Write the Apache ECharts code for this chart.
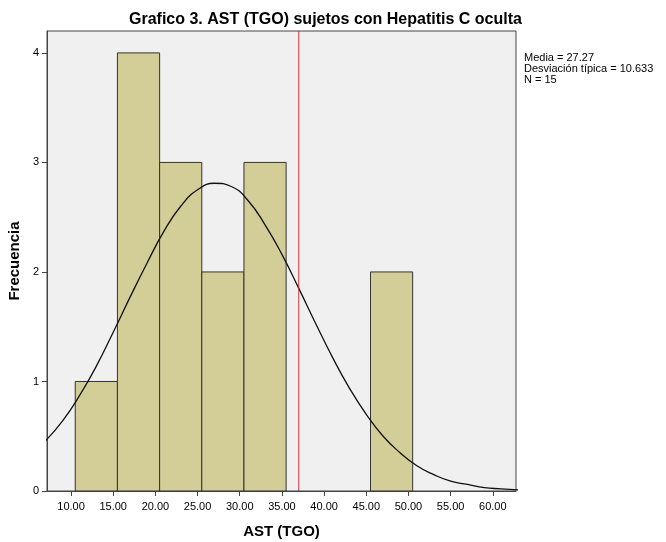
<!DOCTYPE html>
<html>
<head>
<meta charset="utf-8">
<script src="https://cdn.jsdelivr.net/npm/echarts@6/dist/echarts.min.js"></script>
<style>
  html, body { margin: 0; padding: 0; background: #fff; }
  #chart { width: 666px; height: 542px; }
</style>
</head>
<body>
<div id="chart"></div>
<script>
// histogram bins (AST TGO), width 5
const binStart = [10.5, 15.5, 20.5, 25.5, 30.5, 45.5];
const binCount = [1, 4, 3, 2, 3, 2];
const binWidth = 5;

// normal curve
const curveX = [7, 9, 11, 13, 15, 17, 19, 21, 23, 25, 27, 29, 31, 33, 35, 37, 39, 41, 43, 45, 47, 49, 51, 53, 55, 57, 59, 61, 63];
const curveY = [0.46, 0.64, 0.87, 1.14, 1.45, 1.77, 2.08, 2.37, 2.6, 2.75, 2.81, 2.78, 2.65, 2.43, 2.16, 1.85, 1.53, 1.22, 0.94, 0.7, 0.5, 0.35, 0.23, 0.15, 0.09, 0.06, 0.03, 0.02, 0.01];

const refLine = 37;
const xTicks = [10, 15, 20, 25, 30, 35, 40, 45, 50, 55, 60];
const yTicks = [0, 1, 2, 3, 4];
const statsLines = ["Media = 27.27", "Desviación típica = 10.633", "N = 15"];

const font = "Liberation Sans, Arial, sans-serif";
const myChart = echarts.init(document.getElementById("chart"));

let option = {
  animation: false,
  backgroundColor: "#ffffff",
  title: {
    text: "Grafico 3. AST (TGO) sujetos con Hepatitis C oculta",
    left: 124,
    top: 7,
    textStyle: { fontFamily: font, fontSize: 16, fontWeight: "bold", color: "#000" },
  },
  grid: {
    left: 47,
    right: 150,
    top: 31,
    bottom: 51,
    outerBoundsMode: "none",
    show: true,
    backgroundColor: "#f0f0f0",
    borderColor: "#444",
    borderWidth: 1,
  },
  xAxis: {
    type: "value",
    min: 7.15,
    max: 62.75,
    name: "AST (TGO)",
    nameLocation: "middle",
    nameGap: 33,
    nameTextStyle: { fontFamily: font, fontSize: 15, fontWeight: "bold", color: "#000" },
    splitLine: { show: false },
    axisLine: { show: true, lineStyle: { color: "#444" } },
    axisTick: { show: true, length: 5, customValues: xTicks, lineStyle: { color: "#444" } },
    axisLabel: {
      customValues: xTicks,
      formatter: (v) => v.toFixed(2),
      fontFamily: font,
      fontSize: 11,
      color: "#000",
      margin: 10,
    },
  },
  yAxis: {
    type: "value",
    min: 0,
    max: 4.2,
    name: "Frecuencia",
    nameLocation: "middle",
    nameGap: 24,
    nameTextStyle: { fontFamily: font, fontSize: 15, fontWeight: "bold", color: "#000" },
    splitLine: { show: false },
    axisLine: { show: true, lineStyle: { color: "#444" } },
    axisTick: { show: true, length: 5, customValues: yTicks, lineStyle: { color: "#444" } },
    axisLabel: {
      customValues: yTicks,
      fontFamily: font,
      fontSize: 11,
      color: "#000",
      margin: 8,
    },
  },
  graphic: [
    {
      type: "text",
      left: 524,
      top: 52,
      style: {
        text: statsLines.join("\n"),
        font: "11px " + font,
        lineHeight: 11,
        fill: "#000",
      },
    },
  ],
  series: [
    {
      type: "custom",
      data: binStart.map((s, i) => [s, s + binWidth, binCount[i]]),
      encode: { x: [0, 1], y: 2 },
      renderItem: function (params, api) {
        const p0 = api.coord([api.value(0), api.value(2)]);
        const p1 = api.coord([api.value(1), 0]);
        return {
          type: "rect",
          shape: { x: p0[0], y: p0[1], width: p1[0] - p0[0], height: p1[1] - p0[1] },
          style: { fill: "#d3ce97", stroke: "#333", lineWidth: 1 },
        };
      },
      z: 2,
    },
    {
      type: "line",
      data: curveX.map((x, i) => [x, curveY[i]]),
      smooth: true,
      symbol: "none",
      lineStyle: { color: "#111", width: 1.3 },
      z: 3,
    },
    {
      // reference line
      type: "line",
      data: [[refLine, 0], [refLine, 4.2]],
      symbol: "none",
      lineStyle: { color: "#c8323c", width: 1 },
      z: 4,
    },
  ],
};

option && myChart.setOption(option);
</script>
</body>
</html>
